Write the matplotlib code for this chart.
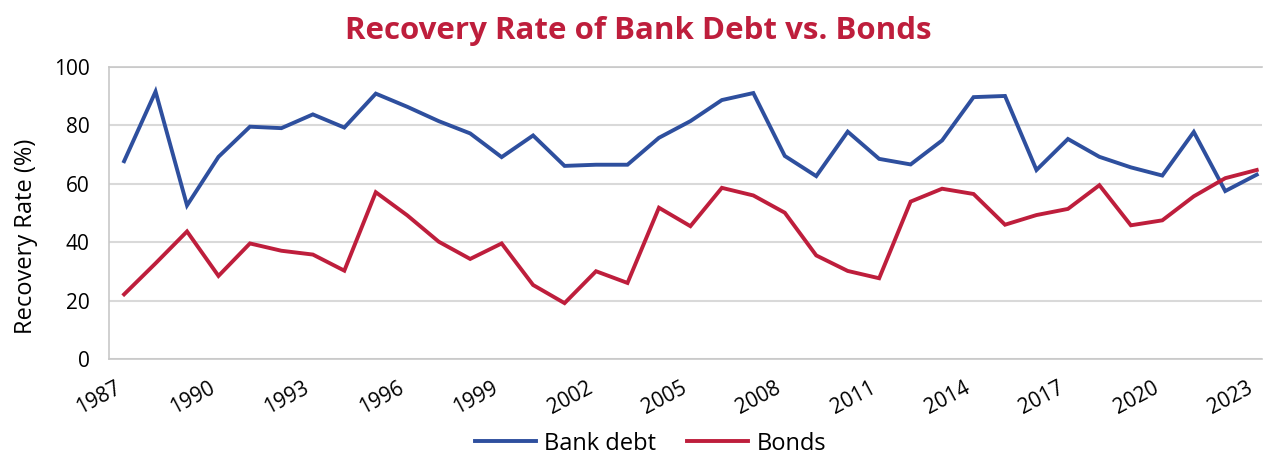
import matplotlib
matplotlib.use("Agg")
import matplotlib.pyplot as plt
import matplotlib.transforms as mtransforms

years = list(range(1987, 2024))
bank_debt = [67.7, 91.5, 52.6, 69.2, 79.5, 79.0, 83.7, 79.2, 90.8, 86.3,
             81.4, 77.2, 69.1, 76.5, 66.1, 66.5, 66.5, 75.7, 81.4, 88.6,
             91.0, 69.5, 62.6, 77.8, 68.5, 66.6, 74.8, 89.6, 90.0, 64.7,
             75.3, 69.2, 65.6, 62.8, 77.7, 57.5, 63.1]
bonds = [22.2, 32.8, 43.7, 28.5, 39.6, 37.1, 35.8, 30.3, 57.1, 49.2,
         40.2, 34.3, 39.6, 25.4, 19.2, 30.1, 26.1, 51.8, 45.5, 58.6,
         56.0, 50.1, 35.5, 30.2, 27.7, 53.9, 58.3, 56.5, 46.0, 49.3,
         51.4, 59.5, 45.8, 47.5, 55.7, 61.9, 64.7]
tick_years = list(range(1987, 2024, 3))
y_ticks = [0, 20, 40, 60, 80, 100]

BLUE = "#2E4F9E"
RED = "#BE1E3C"

plt.rcParams['font.family'] = ['Open Sans', 'DejaVu Sans']

fig = plt.figure(figsize=(12.63, 4.55), dpi=100)
ax = fig.add_axes([0.0863, 0.2103, 0.9127, 0.6431])

ax.plot(years, bank_debt, color=BLUE, lw=2.8, label="Bank debt", solid_joinstyle='miter')
ax.plot(years, bonds, color=RED, lw=2.8, label="Bonds", solid_joinstyle='miter')

ax.set_xlim(1986.52, 2023.16)
ax.set_ylim(0, 100)
ax.set_yticks(y_ticks)
ax.set_xticks(tick_years)
ax.set_xticklabels([str(y) for y in tick_years], rotation=28, ha='right', fontsize=15)
offset = mtransforms.ScaledTranslation(-8 / 100, 0, fig.dpi_scale_trans)
for lbl in ax.get_xticklabels():
    lbl.set_transform(lbl.get_transform() + offset)
ax.tick_params(axis='y', labelsize=15, length=0, pad=14)
ax.tick_params(axis='x', length=0, pad=13)
ax.grid(axis='y', color='#D9D9D9', lw=1.5)
ax.set_axisbelow(True)
for s in ['left', 'top', 'bottom']:
    ax.spines[s].set_color('#C8C8C8')
    ax.spines[s].set_linewidth(1.2)
ax.spines['right'].set_visible(False)

ax.set_ylabel("Recovery Rate (%)", fontsize=17)
ax.yaxis.set_label_coords(-0.062, 0.42)
fig.suptitle("Recovery Rate of Bank Debt vs. Bonds", color=RED, fontsize=22.5,
             fontweight='bold', x=0.505, y=0.965)

fig.legend(loc='center', bbox_to_anchor=(0.515, 0.025), ncol=2, frameon=False,
           fontsize=17, handlelength=2.6, columnspacing=1.3, handletextpad=0.35)

fig.savefig("out.png", dpi=100)
